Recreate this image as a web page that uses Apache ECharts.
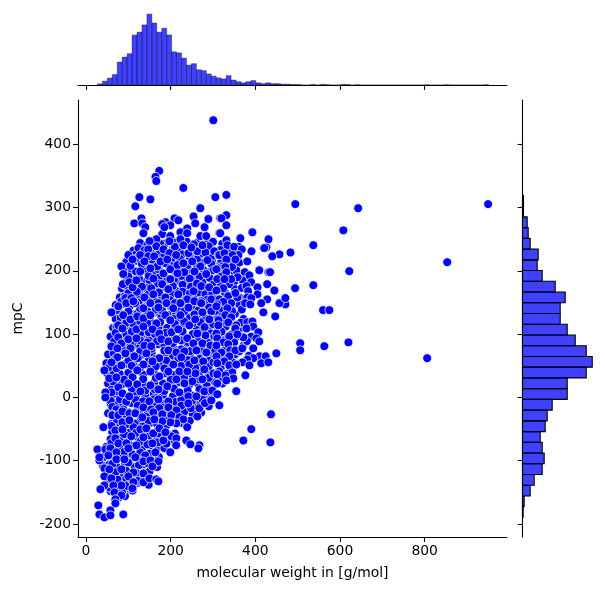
<!DOCTYPE html>
<html>
<head>
<meta charset="utf-8">
<style>html,body{margin:0;padding:0;background:#fff}#chart{width:605px;height:590px}</style>
<script src="https://cdn.jsdelivr.net/npm/echarts@6/dist/echarts.min.js"></script>
</head>
<body>
<div id="chart"></div>
<script>
// Tick positions shared by the scatter and the marginal histograms
const weightTicks = [0, 200, 400, 600, 800];
const mpcTicks = [-200, -100, 0, 100, 200, 300, 400];

// Histogram of molecular weight: bin start, bin width, counts per bin
const weightBinStart = 26.8;
const weightBinWidth = 11.7;
const weightCounts = [4,14,25,38,83,101,113,180,191,217,256,224,191,205,181,120,116,97,72,77,55,52,40,32,26,22,34,18,12,8,12,16,8,5,8,5,5,3,3,2,2,0,0,2,0,2,1,0,0,2,2,0,1,0,0,0,0,0,0,0,0,0,0,0,0,0,1,0,0,0,1,0,0,0,0,0,0,0,1];

// Histogram of mpC, listed from the lowest bin upward
const mpcBinStart = -189.6;
const mpcBinWidth = 16.96;
const mpcCounts = [2,5,23,35,59,65,59,53,68,74,89,134,134,191,209,191,158,134,113,113,128,98,59,44,47,23,17,14,3,3,0,0,0,0,0,0,0];

// Tightly packed compounds that sit underneath the rest, [molecular weight, mpC]
const packedCompounds = [
[128,244],[158,246],[186,243],[208,245],[222,242],[238,246],[262,244],[285,243],[300,246],[322,243],
[112,232],[128,230],[158,233],[172,231],[205,234],[222,230],[252,232],[272,234],[292,231],[318,233],[345,230],
[118,226],[172,227],[185,225],[205,228],[228,226],[252,224],[272,227],[292,225],[340,228],
[95,214],[118,216],[150,213],[160,215],[205,212],[218,216],[240,214],[275,213],[298,215],[318,212],[338,216],[362,213],
[92,200],[108,202],[118,199],[138,201],[165,198],[172,202],[208,200],[222,198],[242,202],[265,199],[278,201],[292,198],[322,202],[342,199],[355,201],[375,198],
[96,184],[110,186],[140,183],[150,185],[168,182],[190,186],[212,184],[238,183],[255,185],[275,182],[302,186],[325,184],[350,183],[370,185],
[85,172],[128,170],[142,173],[165,171],[185,174],[210,170],[238,172],[262,173],[285,170],[322,174],[352,171],[368,173],
[80,158],[92,160],[112,157],[128,159],[152,156],[178,160],[205,158],[222,156],[252,160],[262,157],[278,159],[312,156],[332,160],[362,158],
[70,146],[88,148],[104,145],[128,147],[142,144],[160,148],[180,146],[200,144],[215,148],[235,145],[250,147],[265,144],[282,148],[300,146],[328,144],[362,147],
[66,132],[78,134],[112,131],[122,133],[142,130],[160,134],[175,132],[198,130],[212,134],[240,131],[268,133],[285,130],[312,134],[352,132],
[70,124],[82,126],[95,123],[118,125],[150,122],[178,126],[208,124],[225,122],[245,126],[270,123],[282,125],[302,122],[335,126],[372,124],
[64,110],[72,112],[100,109],[110,111],[150,108],[172,112],[192,110],[208,108],[230,112],[262,109],[292,111],[312,108],[330,112],[365,110],
[58,96],[90,98],[108,95],[130,97],[150,94],[165,98],[188,96],[205,94],[228,98],[262,95],[290,97],[325,94],[355,98],[390,96],
[60,82],[72,84],[92,81],[115,83],[128,80],[170,84],[185,82],[205,80],[240,84],[262,81],[282,83],[305,80],[345,84],[372,82],
[52,68],[65,70],[82,67],[105,69],[128,66],[155,70],[185,68],[205,66],[222,70],[245,67],[270,69],[295,66],[320,70],[352,68],[385,66],
[48,54],[72,56],[92,53],[112,55],[148,52],[172,56],[195,54],[215,52],[232,56],[268,53],[285,55],[315,52],[345,56],
[50,38],[65,40],[80,37],[100,39],[135,36],[160,40],[185,38],[208,36],[228,40],[248,37],[268,39],[290,36],[312,40],[335,38],
[52,22],[65,24],[85,21],[110,23],[135,20],[162,24],[182,22],[205,20],[222,24],[245,21],[262,23],[285,20],[305,24],[322,22],
[52,4],[68,6],[110,3],[120,5],[140,2],[160,6],[182,4],[205,2],[230,6],[250,3],[270,5],[285,2],[295,6],
[58,-10],[72,-8],[88,-11],[108,-9],[128,-12],[152,-8],[182,-10],[205,-12],[230,-8],[258,-11],[272,-9],[288,-12],
[52,-25],[70,-23],[92,-26],[125,-24],[145,-27],[168,-23],[192,-25],[212,-27],[232,-23],[252,-26],[272,-24],
[60,-42],[72,-40],[95,-43],[118,-41],[135,-44],[152,-40],[168,-42],[190,-44],[225,-40],[240,-43],
[62,-55],[78,-53],[100,-56],[118,-54],[138,-57],[168,-53],[178,-55],[210,-57],
[58,-66],[82,-64],[100,-67],[125,-65],[148,-68],[168,-64],[195,-66],[208,-68],
[48,-78],[68,-76],[85,-79],[108,-77],[132,-80],[150,-76],[172,-78],[185,-80],
[42,-94],[62,-92],[82,-95],[105,-93],[125,-96],[152,-92],[172,-94],
[40,-108],[55,-106],[72,-109],[92,-107],[115,-110],[135,-106],[155,-108],[168,-110],
[50,-122],[70,-120],[90,-123],[112,-121],[128,-124],[145,-120],
[50,-136],[75,-134],[95,-137],[122,-135],[148,-138],[58,-148],[75,-146],[95,-149],[110,-147],[78,-158],[92,-156]
];

// Compounds in the body of the cloud, [molecular weight, mpC]
const coreCompounds = [
[145,241],[175,243],[210,238],[255,242],[290,239],[120,220],[155,218],[205,221],[222,219],[245,222],[262,218],[295,220],[320,217],[340,212],
[105,208],[132,211],[168,207],[188,212],[240,209],[262,206],[296,211],[322,207],[345,206],[100,191],[125,188],[148,192],[172,189],[208,187],[225,192],[245,188],[268,191],[292,189],[318,192],[338,188],[358,190],
[92,177],[115,179],[132,175],[170,180],[205,176],[228,178],[248,175],[262,180],[300,178],[318,176],[338,179],[100,165],[120,167],[148,163],[172,166],[202,163],[228,167],[245,164],[268,166],[282,163],[298,165],[328,166],[348,163],
[84,152],[100,154],[124,150],[148,153],[165,151],[198,154],[228,150],[245,153],[266,151],[285,154],[305,155],[320,150],[72,138],[100,136],[128,140],[145,136],[165,139],[180,137],[215,140],[232,136],[252,139],[265,137],[305,136],[322,140],[345,137],[368,139],
[95,118],[112,116],[128,120],[145,117],[175,119],[210,116],[232,120],[252,117],[270,119],[300,116],[325,120],[365,118],[70,102],[95,100],[108,104],[128,101],[148,103],[163,100],[188,102],[228,104],[252,100],[272,103],[295,101],[320,104],[345,100],
[66,88],[105,86],[128,90],[145,87],[168,89],[205,86],[225,90],[242,87],[265,89],[290,86],[325,90],[350,87],[380,89],[88,75],[128,73],[155,77],[185,74],[225,76],[245,73],[272,77],[295,74],[330,76],[362,73],
[68,60],[100,58],[122,62],[148,59],[165,61],[190,58],[218,62],[240,59],[268,61],[290,58],[325,62],[55,48],[72,46],[108,50],[128,47],[165,49],[185,46],[225,50],[258,47],[290,49],[318,46],
[55,30],[90,28],[110,32],[135,29],[165,31],[200,28],[232,32],[265,29],[290,31],[320,28],[60,12],[72,10],[108,14],[140,11],[162,13],[185,10],[208,14],[240,11],[268,13],[290,10],
[58,-5],[80,-3],[95,-7],[118,-4],[135,-6],[160,-3],[212,-7],[225,-4],[250,-6],[275,-3],[62,-15],[122,-13],[145,-17],[165,-14],[185,-16],[225,-13],[248,-17],[290,-14],
[72,-35],[130,-33],[148,-37],[172,-34],[190,-36],[210,-33],[245,-37],[60,-45],[112,-47],[90,-58],[118,-56],[150,-60],[170,-57],[195,-59],[60,-72],[128,-70],[145,-74],[170,-71],[190,-73],
[60,-88],[90,-86],[110,-90],[128,-87],[150,-89],[62,-105],[100,-103],[125,-107],[145,-104],[70,-118],[95,-116],[120,-120],[150,-117],[75,-130],[95,-128],[122,-132],[55,-142],[95,-140],[85,-150]
];

// Compounds around the upper part of the cloud, [molecular weight, mpC]
const upperCompounds = [
[131,283],[114,275],[133,275],[140,269],[135.5,259.5],[209,283],[218,280],[188,277],[180,274],[199,272],[180,258],[199,255],[185,269],[254,286],[258,275],[280,269],[289,282],[239,267],[223,261],[223,250],[239,259.5],[270,255],[284,255],[315,259.5],[317,283],
[197,247],[166,250],[166,239],[150,247],[124,236],[138,232.6],[147,234],[183,234],[197,228],[213,225],[242,228],[263,231],[282,229],[230,240.5],[249,237],[275,240.5],[303,231],[313,225],
[100,225],[110,218],[128,225],[147,223],[161,223],[176,215],[192,218],[138,215],[83.5,207],[88,195],[87,179],[102,182],[110,174],[119,185],[128,199],[152,204],[159,188],[183,196],[199,202.6],[199,187],[216,209],[230,212],[251,215],[270,207],[287,217],[301,201],[313,204],[284,195],[256,199],[232,198],[216,196],
[154,172.5],[180,179],[194.5,171],[218,163],[239,155],[254,168],[272.5,176],[291,174],[310,169],[272.5,152],[296,155],[138,158],[159,163],[187.4,158],[93,157],[107,157],[116,149],[171,149],[210,149],
[331.5,288],[320,283],[331.5,272],[317,259.5],[393,261],[431,250],[331.5,248.4],[364.6,251.6],[334,240.5],[360,238],[350,238],[426,237],[421,236],[391,231],[457,226],[440,223],[483,229],[368,234],[315,225],[327,228],[360,225],[346,225],[353,218],[331.5,218],[381,215],
[329,206],[409.4,201],[431,198],[435,198],[308,202.6],[331.5,198],[386,193],[343,187],[310,187],[327,187],[390,182],[428,179],[379,176],[405,174],[445,169],[324,172.5],[308,169],[383,168],[405,163],[381,158],[390.5,157],[428,155],[471,157],[471,147],[457,149],[414,149],[376,149],[336,160],[357.5,158],[353,165],[315,155],[343,149],[324.4,151]
];

// Compounds in the middle band, [molecular weight, mpC]
const middleCompounds = [
[60,134.5],[76.4,144],[95,149],[112,152],[135.5,141],[152,149],[171,142],[190,149],[206,141],[223,149],[242,142],[256,152],[272,149],[291,142],[310,147],
[88,130],[105,123.4],[121,128],[135.5,125],[152,130],[166,117],[187.4,130],[199,122],[223,130],[244,114],[256,131],[275,134.5],[296,136],[310,123.4],[291.4,123.4],[258,123.4],
[76,114],[86,109],[119,107.6],[135.5,112],[157,107.6],[173,101],[202,103],[218,107.6],[239,93.4],[280,111],[282,98],[303,96.5],[263,101],
[76,95],[83.5,85.5],[100,92],[119,93.4],[138,82],[154,81],[178,92],[194.5,88.6],[213.4,92],[253.6,85.5],[275,85.5],[294,82],[312.6,88.6],
[60,80.7],[74,77.6],[105,77.6],[93,69.7],[114,65],[142.5,69.7],[173,62],[194.5,74.4],[213.4,71],[232.3,72.8],[260.7,74.4],[284.3,71],[305.5,74.4],
[74,63.4],[60,55.5],[83.5,50.7],[135.5,52],[157,57],[206.3,52],[225,63.4],[244,52],[256,58.6],[277,57],[301,55.5],
[43.3,42.8],[121,42.8],[152,41],[173,33.3],[194.5,41],[220.5,41],[279.5,44.4],[301,38],[258.3,38],[239.4,41],
[71.7,31.7],[100,22],[121,20.7],[152,19],[171,12.8],[192,17.5],[213.4,28.6],[251.2,25.4],[275,28.6],[232.3,22.2],
[60,8],[45.7,8],[45.7,0],[76.4,16],[86,6.4],[128.4,9.6],[102.4,1.7],[149.6,-6.2],[171,-3],[194.5,-6.2],[220.5,8],[241.8,1.7],[260.7,1.7],[279.6,9.6],[298.5,11],
[71.7,-19],[88,-19],[102.4,-23.6],[116.5,-23.6],[135.5,-15.7],[154.3,-19],[173,-17],[194.5,-15.7],[213.4,-20.4],[241.8,-9.4],[62,-27],
[419,134.5],[447,128],[388,147],[308,144],[334,141],[329,130],[343,126.6],[313,122],[336,118.7],[355,114],[352.7,109],[381,118.7],[393,120],[395,112],[379,109],[407,103],[308,101],[312.6,114],[338.5,96.6],[364.6,96.6],[371.6,95],[357.5,99.7],[402.4,93.4],[409.4,88.6],[310,93.4],[324.4,87],[336,84],[308,82],
[341,74.4],[352.7,74.4],[369.3,77.6],[395,77.6],[449.6,69.7],[319.7,71],[308,65],[338.5,65],[410,65],[424.4,65],[395.3,62],[381,60],[369.3,55.5],[326.7,57],[338.5,50.7],[355,52],[386,50.7],[414,54],[430.7,55.5],[310,54],
[315,41],[345.6,39.6],[329,35],[376.4,35],[348,30],[310,36.5],[331.5,27],[310,22],[355,9.6],[310,5]
];

// Compounds in the lower part of the cloud, [molecular weight, mpC]
const lowerCompounds = [
[62,-28],[76.4,-28],[86,-22],[102.4,-25],[116.5,-25],[133,-31.4],[159,-23.5],[180.3,-26.6],[201.6,-28],[220.5,-31.4],[230,-34.6],[213.4,-41],[199.2,-39.3],[180.3,-37.7],[161.4,-34.6],[86,-39.3],[102.4,-36],
[69.3,-52],[86,-50.4],[107,-61.4],[128.4,-50.4],[142.5,-48.8],[159,-56.7],[173.2,-48.8],[182.7,-67.8],[201.6,-61.4],[187.4,-55],[213.4,-64.6],[69.3,-64.6],[76.4,-72.5],[95.3,-72.5],[119,-75.7],[135.5,-63],[156.7,-72.5],[163.8,-86.7],[100,-80.4],[140,-91.5],
[26.8,-82],[45.7,-82],[57.5,-80.4],[71.7,-86.7],[52.8,-91.5],[31.5,-99.4],[31.5,-94.6],[71.7,-97.8],[90.6,-97.8],[116.5,-94.6],[135.5,-101],[152,-99.4],[171,-101],[156.7,-109],
[43.3,-112],[55,-113.6],[83.5,-113.6],[111.8,-118.4],[135.5,-120],[43.3,-124.7],[59.8,-127.8],[100,-124.7],[135.5,-134],[149.6,-127.8],[166,-129.4],[171,-132.6],[43.3,-139],[33.9,-145],[83.5,-139],[111.8,-134],[109.5,-143.6],[64.6,-139],[67,-150],[83.5,-154.7],[69.3,-161],[69.3,-167.4],[57.5,-178.4],[29,-170.5],[31.5,-184.8],[43.3,-189.5],[57.5,-186.3],[88,-184.8]
];

// Isolated compounds away from the cloud, [molecular weight, mpC]
const isolatedCompounds = [
[300.8,438],[173,358],[164,348.6],[166,342],[230,331],[126,316.5],[152,313],[116.5,302],[305.5,316.5],[331.5,320],[270,299],[494.5,305.5],[643,299],[950,305.5],[608,264],[537,240.6],[853.5,213.7],[622,199.5],[537,177.4],[494,172.6],[471,157],[560,138],[575,138],[506,85.7],[506,74.6],[563,81],[620,87],[806,62],
[437,-26.6],[390.5,-50],[371.7,-68],[435.5,-71],[355,10],[315,-12.4],[263,-30],[267.8,-17],[281,-9],[296,-4.5],[239,-47],[237,-68],[246.5,-74],[268,-75.6],[265.4,-80.4],[213,-75.6],[199,-86.6],[41,-47]
];

const axisColor = '#000';
const fontFamily = '"DejaVu Sans", sans-serif';
const weightRange = [-19, 994.6];
const mpcRange = [-220.5, 470];

// Builds one histogram series drawn as rectangles through the axis scales
function histogramSeries(binStart, binWidth, counts, horizontal, xAxisIndex, yAxisIndex, edgeColor, edgeWidth, drawEmptyBins) {
  const bins = counts.map((n, i) => [binStart + i * binWidth, binStart + (i + 1) * binWidth, n]);
  return {
    type: 'custom',
    xAxisIndex, yAxisIndex,
    silent: true,
    clip: false,
    data: bins,
    encode: horizontal ? { x: 2, y: [0, 1] } : { x: [0, 1], y: 2 },
    renderItem(params, api) {
      const a = api.value(0), b = api.value(1), n = api.value(2);
      if (n === 0 && !drawEmptyBins) return null;
      const p0 = horizontal ? api.coord([0, a]) : api.coord([a, 0]);
      const p1 = horizontal ? api.coord([n, b]) : api.coord([b, n]);
      return {
        type: 'rect',
        shape: {
          x: Math.min(p0[0], p1[0]), y: Math.min(p0[1], p1[1]),
          width: Math.abs(p1[0] - p0[0]), height: Math.abs(p1[1] - p0[1])
        },
        style: { fill: 'rgba(0,0,255,0.75)', stroke: edgeColor, lineWidth: edgeWidth }
      };
    }
  };
}

const axisLine = { show: true, onZero: false, lineStyle: { color: axisColor, width: 1.1 } };
const tickStyle = { length: 4.9, lineStyle: { color: axisColor, width: 1.1 } };
const labelStyle = { color: axisColor, fontSize: 13.9, fontFamily };
const nameStyle = { color: axisColor, fontSize: 13.9, fontFamily };

const chart = echarts.init(document.getElementById('chart'), null, { renderer: 'canvas' });
chart.setOption({
  animation: false,
  backgroundColor: '#fff',
  grid: [
    { left: 78, top: 100, width: 429, height: 437 },
    { left: 78, top: 10.5, width: 429, height: 74.5 },
    { left: 522.5, top: 100, width: 73.4, height: 437 }
  ],
  xAxis: [
    { type: 'value', gridIndex: 0, min: weightRange[0], max: weightRange[1], splitLine: { show: false }, axisLine,
      axisTick: { ...tickStyle, customValues: weightTicks },
      axisLabel: { ...labelStyle, margin: 7, customValues: weightTicks },
      name: 'molecular weight in [g/mol]', nameLocation: 'middle', nameGap: 29, nameTextStyle: nameStyle },
    { type: 'value', gridIndex: 1, min: weightRange[0], max: weightRange[1], splitLine: { show: false }, axisLine,
      axisTick: { ...tickStyle, customValues: weightTicks },
      axisLabel: { show: false } },
    { type: 'value', gridIndex: 2, min: 0, max: 220, show: false }
  ],
  yAxis: [
    { type: 'value', gridIndex: 0, min: mpcRange[0], max: mpcRange[1], splitLine: { show: false }, axisLine,
      axisTick: { ...tickStyle, customValues: mpcTicks },
      axisLabel: { ...labelStyle, margin: 7, padding: [2, 0, 0, 0], customValues: mpcTicks },
      name: 'mpC', nameLocation: 'middle', nameGap: 53, nameTextStyle: nameStyle },
    { type: 'value', gridIndex: 1, min: 0, max: 269, show: false },
    { type: 'value', gridIndex: 2, min: mpcRange[0], max: mpcRange[1], splitLine: { show: false }, axisLine,
      axisTick: { ...tickStyle, customValues: mpcTicks },
      axisLabel: { show: false } }
  ],
  series: [
    {
      type: 'scatter',
      xAxisIndex: 0, yAxisIndex: 0,
      silent: true,
      symbolSize: 8.9,
      itemStyle: { color: '#0000ff', borderColor: '#fff', borderWidth: 0.8, opacity: 1 },
      data: [...packedCompounds, ...coreCompounds, ...upperCompounds, ...middleCompounds, ...lowerCompounds, ...isolatedCompounds]
    },
    histogramSeries(weightBinStart, weightBinWidth, weightCounts, false, 1, 1, 'rgba(0,0,0,0.55)', 0.6, true),
    histogramSeries(mpcBinStart, mpcBinWidth, mpcCounts, true, 2, 2, '#000', 1.1, false)
  ]
});
</script>
</body>
</html>
